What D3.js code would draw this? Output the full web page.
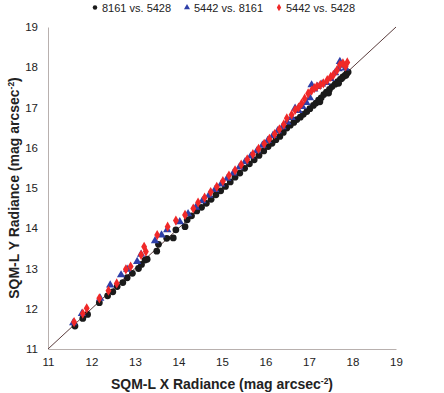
<!DOCTYPE html>
<html>
<head>
<meta charset="utf-8">
<script src="https://cdn.jsdelivr.net/npm/d3@7"></script>
<style>
  body { margin: 0; background: #fff; }
  text { font-family: "Liberation Sans", Arial, sans-serif; }
</style>
</head>
<body>
<svg id="chart" width="444" height="393"></svg>
<script>
// series names, as in the legend
var seriesNames = ["8161 vs. 5428", "5442 vs. 8161", "5442 vs. 5428"];
var ticks = [11, 12, 13, 14, 15, 16, 17, 18, 19];

// 8161 vs. 5428
var blackX = [11.62,11.80,11.91,12.18,12.37,12.49,12.59,12.72,12.82,12.94,13.08,13.15,13.23,13.28,13.50,13.54,13.73,13.88,13.94,14.15,14.20,14.30,14.42,14.53,14.64,14.75,14.86,14.97,15.08,15.19,15.30,15.41,15.52,15.63,15.74,15.85,15.96,16.06,16.15,16.24,16.33,16.41,16.49,16.57,16.65,16.72,16.80,16.87,16.95,17.02,17.10,17.16,17.22,17.28,17.34,17.40,17.47,17.53,17.60,17.66,17.72,17.78,17.83,17.87,17.90,17.85,17.75,17.25,17.45,17.68];
var blackY = [11.57,11.76,11.86,12.15,12.32,12.42,12.55,12.65,12.77,12.88,13.00,13.10,13.21,13.23,13.43,13.60,13.75,13.76,13.96,14.04,14.21,14.31,14.43,14.52,14.62,14.72,14.83,14.93,15.04,15.15,15.27,15.37,15.49,15.60,15.70,15.81,15.92,16.03,16.11,16.20,16.28,16.38,16.49,16.56,16.63,16.70,16.76,16.83,16.90,16.97,17.05,17.11,17.18,17.24,17.32,17.38,17.45,17.52,17.58,17.64,17.70,17.76,17.80,17.85,17.88,17.80,17.72,17.14,17.36,17.60];

// 5442 vs. 8161
var blueX = [11.58,11.78,12.20,12.43,12.68,12.82,13.05,13.14,13.46,13.61,13.74,14.03,14.22,14.40,14.55,14.70,14.84,14.98,15.12,15.26,15.40,15.53,15.66,15.80,15.93,16.05,16.17,16.28,16.39,16.50,16.60,16.68,16.76,16.85,16.94,17.02,17.06,17.12,17.20,17.30,17.40,17.50,17.60,17.68,17.71,17.78,17.84];
var blueY = [11.65,11.88,12.26,12.59,12.84,12.98,13.17,13.35,13.69,13.83,13.96,14.16,14.36,14.52,14.68,14.82,14.96,15.10,15.24,15.37,15.52,15.65,15.79,15.92,16.06,16.18,16.30,16.42,16.52,16.64,16.75,16.98,16.92,17.02,17.12,17.24,17.56,17.46,17.52,17.58,17.62,17.72,17.86,17.96,18.14,18.05,17.98];

// 5442 vs. 5428
var redX = [11.60,11.80,11.89,12.18,12.39,12.58,12.79,12.90,13.14,13.21,13.25,13.51,13.75,13.94,14.15,14.34,14.45,14.60,14.74,14.88,15.02,15.16,15.30,15.44,15.58,15.71,15.84,15.97,16.09,16.21,16.32,16.42,16.49,16.60,16.68,16.76,16.83,16.90,16.98,17.06,17.12,17.18,17.26,17.33,17.42,17.50,17.56,17.64,17.71,17.78,17.84,17.88];
var redY = [11.67,11.88,12.01,12.26,12.45,12.63,12.98,13.05,13.34,13.54,13.42,13.83,14.04,14.19,14.33,14.49,14.64,14.76,14.90,15.03,15.17,15.31,15.44,15.58,15.71,15.84,15.97,16.10,16.22,16.34,16.46,16.58,16.73,16.82,16.94,17.00,17.10,17.22,17.35,17.42,17.48,17.52,17.56,17.60,17.68,17.76,17.81,17.92,18.06,18.10,18.02,18.12];

var svg = d3.select("#chart");

var x = d3.scaleLinear().domain([11, 19]).range([48, 396]);
var y = d3.scaleLinear().domain([11, 19]).range([349, 27]);

// axes
svg.append("g")
    .attr("transform", "translate(0,349)")
    .call(d3.axisBottom(x).tickValues(ticks).tickSize(0).tickPadding(9));
svg.append("g")
    .attr("transform", "translate(48,0)")
    .call(d3.axisLeft(y).tickValues(ticks).tickSize(0).tickPadding(10));

svg.selectAll(".domain").attr("stroke", "#b8b0ae").attr("stroke-width", 1);
svg.selectAll(".tick text")
    .attr("font-size", 11.5)
    .attr("fill", "#222")
    .style("font-family", "'Liberation Sans', Arial, sans-serif");

// 1:1 line
svg.append("line")
    .attr("x1", x(11)).attr("y1", y(11))
    .attr("x2", x(19)).attr("y2", y(19))
    .attr("stroke", "#5a3c3c")
    .attr("stroke-width", 1);

function zip(xs, ys) {
  return xs.map(function(v, i) { return {x: v, y: ys[i]}; });
}

var series = [
  {name: seriesNames[0], data: zip(blackX, blackY), color: "#1a1a1a", symbol: d3.symbolCircle, size: 36},
  {name: seriesNames[1], data: zip(blueX, blueY), color: "#2e3fa8", symbol: d3.symbolTriangle, size: 30},
  {name: seriesNames[2], data: zip(redX, redY), color: "#f02828", symbol: d3.symbolDiamond, size: 30}
];

series.forEach(function(s) {
  svg.append("g")
    .selectAll("path")
    .data(s.data)
    .enter().append("path")
      .attr("d", d3.symbol().type(s.symbol).size(s.size))
      .attr("transform", function(d) { return "translate(" + x(d.x) + "," + y(d.y) + ")"; })
      .attr("fill", s.color);
});

// legend
var legendX = [95, 187, 279];
var legend = svg.append("g");
series.forEach(function(s, i) {
  legend.append("path")
    .attr("d", d3.symbol().type(s.symbol).size(16))
    .attr("transform", "translate(" + legendX[i] + ",7.5)")
    .attr("fill", s.color);
  legend.append("text")
    .attr("x", legendX[i] + 7)
    .attr("y", 11.5)
    .attr("font-size", 11)
    .attr("fill", "#222")
    .text(s.name);
});

// axis titles
var xt = svg.append("text")
    .attr("x", 222)
    .attr("y", 389)
    .attr("text-anchor", "middle")
    .attr("font-size", 14)
    .attr("font-weight", "bold")
    .attr("fill", "#222");
xt.append("tspan").text("SQM-L X Radiance (mag arcsec");
xt.append("tspan").attr("dy", -5).attr("font-size", 8.5).text("-2");
xt.append("tspan").attr("dy", 5).text(")");

var yt = svg.append("text")
    .attr("transform", "translate(19,188) rotate(-90)")
    .attr("text-anchor", "middle")
    .attr("font-size", 14)
    .attr("font-weight", "bold")
    .attr("fill", "#222");
yt.append("tspan").text("SQM-L Y Radiance (mag arcsec");
yt.append("tspan").attr("dy", -5).attr("font-size", 8.5).text("-2");
yt.append("tspan").attr("dy", 5).text(")");
</script>
</body>
</html>
